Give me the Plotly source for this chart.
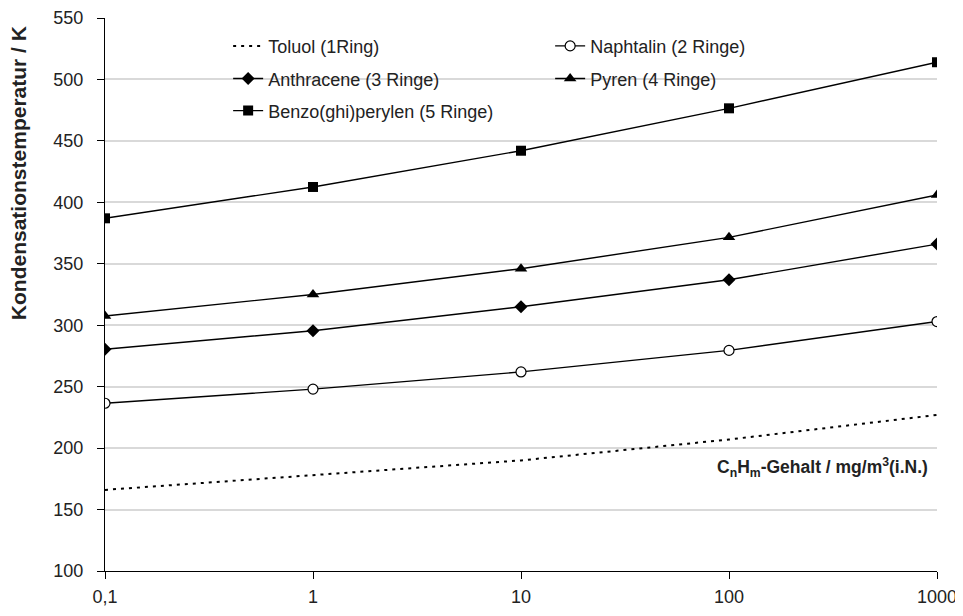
import plotly.graph_objects as go

x_vals = [0.1, 1, 10, 100, 1000]
x_tick_text = ["0,1", "1", "10", "100", "1000"]

toluol = [166, 178, 190, 207, 227]
naphtalin = [236.5, 248, 262, 279.5, 303]
anthracene = [280.5, 295.5, 315, 337, 366]
pyren = [307.5, 325, 346, 371.5, 406]
benzo = [387, 412.5, 442, 476.5, 514]

names = ["Toluol (1Ring)", "Naphtalin (2 Ringe)", "Anthracene (3 Ringe)",
         "Pyren (4 Ringe)", "Benzo(ghi)perylen (5 Ringe)"]

y_title = "Kondensationstemperatur / K"
x_title = "C<sub>n</sub>H<sub>m</sub>-Gehalt / mg/m<sup>3</sup>(i.N.)"

FONT = "Liberation Sans, Arial, sans-serif"

fig = go.Figure()

fig.add_trace(go.Scatter(x=x_vals, y=toluol, name=names[0], mode="lines",
                         line=dict(color="black", width=2, dash="3px,5px"),
                         legend="legend"))
fig.add_trace(go.Scatter(x=x_vals, y=naphtalin, name=names[1], mode="lines+markers",
                         line=dict(color="black", width=1.4),
                         marker=dict(symbol="circle", size=10, color="white",
                                     line=dict(color="black", width=1.2)),
                         legend="legend"))
fig.add_trace(go.Scatter(x=x_vals, y=anthracene, name=names[2], mode="lines+markers",
                         line=dict(color="black", width=1.4),
                         marker=dict(symbol="diamond", size=10, color="black"),
                         legend="legend2"))
fig.add_trace(go.Scatter(x=x_vals, y=pyren, name=names[3], mode="lines+markers",
                         line=dict(color="black", width=1.4),
                         marker=dict(symbol="triangle-up", size=11, color="black"),
                         legend="legend2"))
fig.add_trace(go.Scatter(x=x_vals, y=benzo, name=names[4], mode="lines+markers",
                         line=dict(color="black", width=1.4),
                         marker=dict(symbol="square", size=10, color="black"),
                         legend="legend3"))

leg_common = dict(orientation="h", x=0.148, xanchor="left", yanchor="middle",
                  entrywidth=277, entrywidthmode="pixels",
                  font=dict(family=FONT, size=18, color="#222"),
                  bgcolor="rgba(0,0,0,0)", itemclick=False)

fig.update_layout(
    width=963, height=616,
    margin=dict(l=97, r=34, t=10, b=53, autoexpand=False),
    paper_bgcolor="white", plot_bgcolor="white",
    font=dict(family=FONT, size=18, color="#222"),
    legend=dict(y=0.949, **leg_common),
    legend2=dict(y=0.890, **leg_common),
    legend3=dict(y=0.832, **leg_common),
    xaxis=dict(type="log", range=[-1, 3], tickvals=x_vals, ticktext=x_tick_text,
               showgrid=False, showline=True, linecolor="black", linewidth=1.3,
               ticks="outside", ticklen=7, tickcolor="black", tickwidth=1.2,
               ticklabelstandoff=2, zeroline=False, automargin=False,
               tickfont=dict(family=FONT, size=18, color="#222")),
    yaxis=dict(range=[100, 550], dtick=50, tick0=100,
               showgrid=True, gridcolor="#d9d9d9", gridwidth=1.5,
               showline=True, linecolor="black", linewidth=1.3,
               ticks="outside", ticklen=7, tickcolor="black", tickwidth=1.2,
               ticklabelstandoff=10, zeroline=False, automargin=False,
               tickfont=dict(family=FONT, size=18, color="#222")),
    annotations=[
        dict(text="<b>" + y_title + "</b>", textangle=-90,
             xref="paper", yref="paper", x=-0.103, y=0.72,
             xanchor="center", yanchor="middle", showarrow=False,
             font=dict(family=FONT, size=21, color="#222")),
        dict(text="<b>" + x_title + "</b>",
             xref="paper", yref="paper", x=0.9916, y=0.188,
             xanchor="right", yanchor="middle", showarrow=False,
             font=dict(family=FONT, size=17.5, color="#222")),
    ],
)

fig.write_html("out.html")
